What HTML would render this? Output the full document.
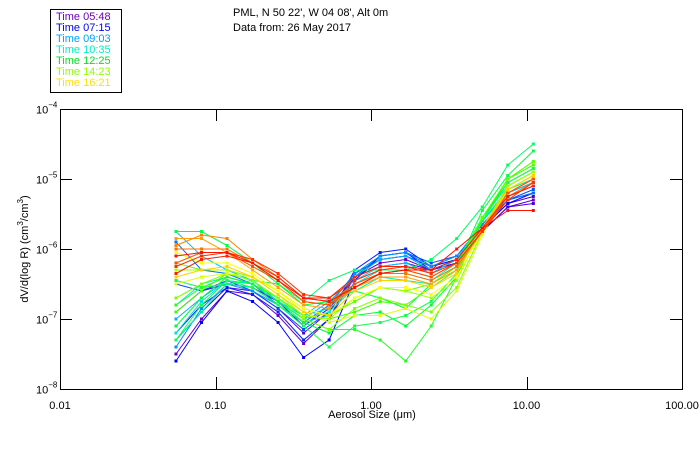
<!DOCTYPE html>
<html><head><meta charset="utf-8"><style>
body{margin:0;background:#fff;width:700px;height:450px;overflow:hidden;font-family:"Liberation Sans",sans-serif}
svg{display:block}
</style></head><body>
<svg id="chart" width="700" height="450" xmlns="http://www.w3.org/2000/svg">
<g>
<rect x="50.5" y="9.5" width="71" height="83" fill="none" stroke="#000"/>
<text x="56" y="20" font-size="11" fill="#7000c0">Time 05:48</text>
<text x="56" y="31" font-size="11" fill="#0000ff">Time 07:15</text>
<text x="56" y="42" font-size="11" fill="#00a0ff">Time 09:03</text>
<text x="56" y="53" font-size="11" fill="#00f0c0">Time 10:35</text>
<text x="56" y="64" font-size="11" fill="#00e020">Time 12:25</text>
<text x="56" y="75" font-size="11" fill="#90ff00">Time 14:23</text>
<text x="56" y="86" font-size="11" fill="#ffe000">Time 16:21</text>
</g>
<text x="233" y="16" font-size="11">PML, N 50 22', W 04 08', Alt 0m</text>
<text x="233" y="31" font-size="11">Data from: 26 May 2017</text>
<g id="axes"></g>
<g id="series"></g>
</svg>
<script>
const xSizes=[0.0557,0.0813,0.1186,0.1731,0.2526,0.3686,0.5379,0.785,1.1455,1.6716,2.4394,3.5598,5.1948,7.5806,11.062];
const xTicks=[0.01,0.1,1,10,100];
const xTickLabels=["0.01","0.10","1.00","10.00","100.00"];
const yTickExps=[-4,-5,-6,-7,-8];
const seriesColors=["#6a00c8","#5000d8","#4000e0","#0000ff","#0020ff","#0050ff","#0070ff","#0090ff","#00b0ff","#00c8ff","#00e0e0","#00f0c0","#00f0a0","#00ff60","#00ff40","#20ff20","#40ff00","#00ff30","#10ff50","#60ff00","#80ff00","#a0ff00","#e0ff00","#ffff00","#ffd000","#ffa000","#ff8000","#ff7000","#ff5000","#ff3000","#ff2000","#ff1000"];
// log10 of dV/d(log R) (cm^3/cm^-3)
const s0=[-7.5,-7.0,-6.6,-6.65,-6.95,-7.35,-7.0,-6.4,-6.2,-6.15,-6.3,-6.2,-5.75,-5.4,-5.3];
const s1=[-7.3,-6.9,-6.55,-6.6,-6.85,-7.2,-6.9,-6.35,-6.15,-6.1,-6.25,-6.15,-5.7,-5.35,-5.25];
const s2=[-6.9,-6.6,-6.5,-6.55,-6.75,-7.1,-6.85,-6.4,-6.25,-6.2,-6.3,-6.2,-5.75,-5.4,-5.35];
const s3=[-7.6,-7.05,-6.6,-6.75,-7.05,-7.55,-7.3,-6.45,-6.1,-6.05,-6.3,-6.15,-5.7,-5.35,-5.2];
const s4=[-7.2,-6.8,-6.55,-6.65,-6.9,-7.3,-7.0,-6.3,-6.05,-6.0,-6.25,-6.15,-5.7,-5.3,-5.2];
const s5=[-6.5,-6.6,-6.45,-6.6,-6.85,-7.15,-6.9,-6.4,-6.1,-6.05,-6.2,-6.1,-5.65,-5.3,-5.15];
const s6=[-5.9,-6.3,-6.35,-6.5,-6.8,-7.05,-6.8,-6.35,-6.15,-6.1,-6.25,-6.1,-5.7,-5.3,-5.2];
const s7=[-7.4,-6.85,-6.5,-6.6,-6.8,-7.1,-6.8,-6.35,-6.1,-6.05,-6.25,-6.1,-5.65,-5.25,-5.1];
const s8=[-7.0,-6.7,-6.45,-6.5,-6.75,-7.0,-6.75,-6.4,-6.15,-6.1,-6.3,-6.15,-5.6,-5.2,-5.05];
const s9=[-5.75,-6.1,-6.3,-6.45,-6.75,-6.95,-6.7,-6.45,-6.25,-6.2,-6.35,-6.15,-5.6,-5.2,-5.05];
const s10=[-7.2,-6.75,-6.45,-6.5,-6.7,-6.95,-6.85,-6.5,-6.3,-6.3,-6.4,-6.2,-5.6,-5.15,-4.95];
const s11=[-6.8,-6.5,-6.4,-6.5,-6.75,-7.0,-6.9,-6.55,-6.35,-6.35,-6.45,-6.2,-5.55,-5.1,-4.9];
const s12=[-7.3,-6.9,-6.5,-6.55,-6.8,-7.05,-6.95,-6.6,-6.4,-6.45,-6.5,-6.25,-5.6,-5.15,-5.0];
const s13=[-6.45,-6.55,-6.5,-6.45,-6.5,-6.75,-6.45,-6.3,-6.3,-6.3,-6.15,-5.85,-5.4,-4.8,-4.5];
const s14=[-5.75,-5.75,-5.95,-6.2,-6.5,-6.8,-6.75,-6.6,-6.7,-6.85,-6.5,-6.25,-5.45,-4.95,-4.6];
const s15=[-6.8,-6.55,-6.4,-6.5,-6.7,-7.0,-7.15,-7.15,-7.3,-7.6,-7.1,-6.4,-5.6,-5.0,-4.75];
const s16=[-6.9,-6.6,-6.35,-6.45,-6.7,-6.95,-7.0,-6.9,-6.75,-6.8,-6.55,-6.3,-5.55,-5.0,-4.8];
const s17=[-7.1,-6.7,-6.4,-6.5,-6.75,-7.05,-7.2,-6.95,-6.9,-7.1,-6.8,-6.4,-5.55,-5.05,-4.85];
const s18=[-7.3,-6.8,-6.45,-6.55,-6.8,-7.1,-7.4,-7.1,-7.05,-6.95,-6.75,-6.35,-5.6,-5.05,-4.85];
const s19=[-6.2,-6.3,-6.3,-6.4,-6.6,-6.85,-6.95,-6.75,-6.55,-6.6,-6.5,-6.25,-5.55,-5.0,-4.75];
const s20=[-6.7,-6.5,-6.35,-6.45,-6.7,-7.0,-7.15,-6.85,-6.7,-6.8,-6.9,-6.55,-5.75,-5.1,-4.9];
const s21=[-6.3,-6.3,-6.3,-6.4,-6.65,-6.95,-7.0,-6.7,-6.55,-6.6,-6.7,-6.45,-5.7,-5.1,-4.9];
const s22=[-6.5,-6.4,-6.35,-6.4,-6.6,-6.9,-7.05,-6.95,-6.95,-6.85,-7.0,-6.6,-5.8,-5.15,-4.95];
const s23=[-6.05,-6.2,-6.2,-6.35,-6.6,-6.85,-6.95,-6.7,-6.55,-6.55,-6.65,-6.4,-5.75,-5.15,-4.95];
const s24=[-6.4,-6.3,-6.25,-6.4,-6.65,-6.9,-6.95,-6.6,-6.45,-6.45,-6.55,-6.35,-5.7,-5.15,-4.95];
const s25=[-5.85,-5.85,-6.05,-6.3,-6.55,-6.8,-6.85,-6.55,-6.4,-6.4,-6.5,-6.3,-5.7,-5.2,-5.0];
const s26=[-5.95,-5.8,-5.85,-6.15,-6.4,-6.7,-6.75,-6.5,-6.35,-6.3,-6.4,-6.2,-5.75,-5.2,-5.0];
const s27=[-6.0,-6.0,-6.0,-6.2,-6.45,-6.75,-6.8,-6.55,-6.35,-6.35,-6.45,-6.25,-5.75,-5.25,-5.05];
const s28=[-6.2,-6.05,-6.05,-6.25,-6.45,-6.75,-6.8,-6.5,-6.35,-6.3,-6.4,-6.2,-5.75,-5.2,-5.0];
const s29=[-6.25,-6.1,-6.05,-6.15,-6.35,-6.65,-6.7,-6.45,-6.3,-6.25,-6.35,-6.2,-5.75,-5.3,-5.05];
const s30=[-6.35,-6.15,-6.1,-6.2,-6.4,-6.7,-6.7,-6.4,-6.25,-6.25,-6.3,-6.15,-5.7,-5.25,-5.1];
const s31=[-6.1,-6.05,-6.05,-6.2,-6.45,-6.7,-6.75,-6.55,-6.35,-6.3,-6.3,-6.0,-5.7,-5.45,-5.45];
const allSeries=[s0,s1,s2,s3,s4,s5,s6,s7,s8,s9,s10,s11,s12,s13,s14,s15,s16,s17,s18,s19,s20,s21,s22,s23,s24,s25,s26,s27,s28,s29,s30,s31];

const NS="http://www.w3.org/2000/svg";
const L=60,R=682,T=109,B=389;
function xScale(v){return L+(Math.log10(v)+2)/4*(R-L);}
function yScale(lg){return T+(-4-lg)/4*(B-T);}
function mk(tag,attrs,parent){const e=document.createElementNS(NS,tag);for(const k in attrs)e.setAttribute(k,attrs[k]);parent.appendChild(e);return e;}
const axes=document.getElementById('axes');
const frame=mk('rect',{x:L+0.5,y:T+0.5,width:R-L,height:B-T,fill:'none',stroke:'#000','stroke-width':1},axes);


xTicks.forEach((v,i)=>{
  const x=Math.round(xScale(v))+0.5;
  const t1=mk('line',{x1:x,x2:x,y1:B,y2:B-12,stroke:'#000'},axes);
  
  
  const t2=mk('line',{x1:x,x2:x,y1:T,y2:T+12,stroke:'#000'},axes);
  
  
  const tx=mk('text',{x:xScale(v),y:B+20,'font-size':11,'text-anchor':'middle'},axes);
  tx.textContent=xTickLabels[i];
  
  
});
yTickExps.forEach(e=>{
  const y=Math.round(yScale(e))+0.5;
  const t1=mk('line',{x1:L,x2:L+12,y1:y,y2:y,stroke:'#000'},axes);
  
  
  const t2=mk('line',{x1:R-12,x2:R,y1:y,y2:y,stroke:'#000'},axes);
  
  
  const tx=mk('text',{x:36,y:y+4,'font-size':11},axes);
  tx.innerHTML='10<tspan dy="-6" font-size="8">'+(e<0?'\u2212':'')+Math.abs(e)+'</tspan>';
  
  
});
const xt=mk('text',{x:372,y:418,'font-size':11,'text-anchor':'middle'},axes);
xt.textContent='Aerosol Size (\u03bcm)';


const yt=mk('text',{x:0,y:0,'font-size':11,'text-anchor':'middle',transform:'translate(28,249) rotate(-90)'},axes);
yt.innerHTML='dV/d(log R) (cm<tspan dy="-5" font-size="8">3</tspan><tspan dy="5">/cm</tspan><tspan dy="-5" font-size="8">3</tspan><tspan dy="5">)</tspan>';



const sg=document.getElementById('series');
allSeries.forEach((s,k)=>{
  const c=seriesColors[k];
  const g=mk('g',{},sg);
  
  
  const pts=s.map((v,i)=>xScale(xSizes[i]).toFixed(1)+','+yScale(v).toFixed(1)).join(' ');
  const pl=mk('polyline',{points:pts,fill:'none',stroke:c,'stroke-width':1},g);
  
  
  s.forEach((v,i)=>{
    const m=mk('rect',{x:xScale(xSizes[i])-1.5,y:yScale(v)-1.5,width:3,height:3,fill:c},g);
    
    
  });
});
</script>
</body></html>
